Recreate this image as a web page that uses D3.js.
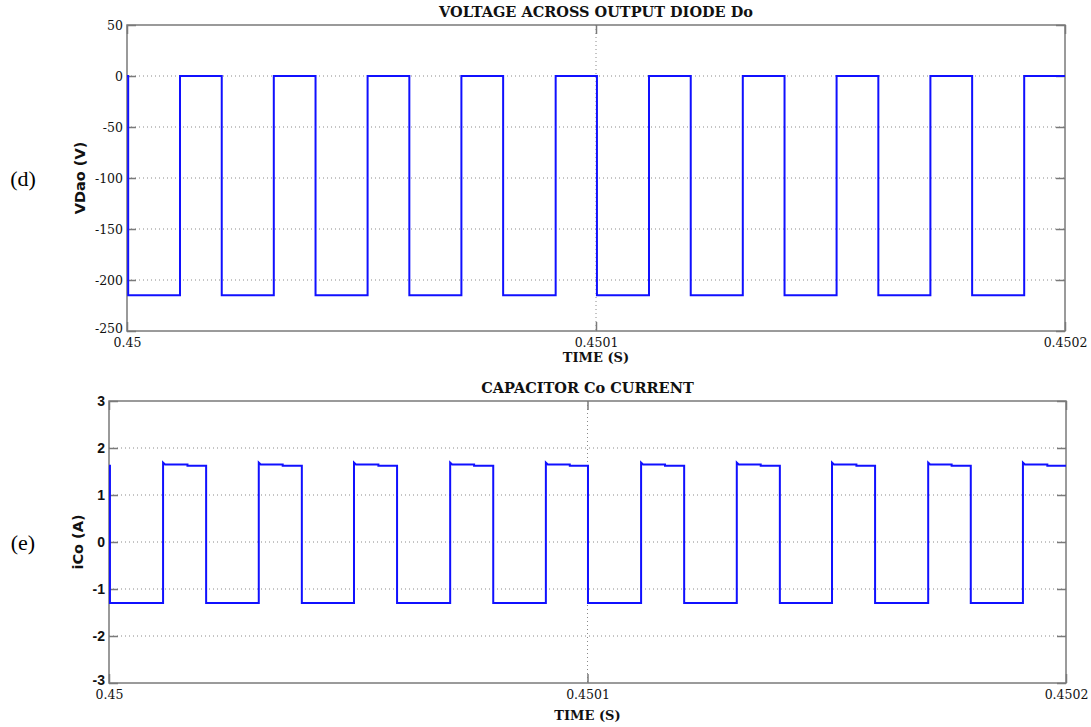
<!DOCTYPE html>
<html>
<head>
<meta charset="utf-8">
<script src="https://cdn.jsdelivr.net/npm/d3@7"></script>
<style>
  body { margin: 0; background: #fff; }
  svg { display: block; }
</style>
</head>
<body>
<svg id="chart" width="1091" height="727"></svg>
<script>
// Shared time axis (seconds); switching edges are given in microseconds after 0.45 s
const timeStart = 0.45;
const timeTicks = [0.45, 0.4501, 0.4502];
const timeTickLabels = ["0.45", "0.4501", "0.4502"];

// (d) Voltage across output diode Do
const vdFallUs = [0.25, 20.2, 40.2, 60.2, 80.2, 100.2, 120.2, 140.2, 160.2, 180.2];
const vdRiseUs = [11.3, 31.3, 51.3, 71.3, 91.4, 111.3, 131.3, 151.3, 171.3, 191.3];
const vdConducting = 0;
const vdBlocking = -215;
const vdTicks = [50, 0, -50, -100, -150, -200, -250];

// (e) Capacitor Co current
const icoFallUs = [0.2, 20.3, 40.3, 60.2, 80.3, 100.1, 120.2, 140.2, 160.1, 180.1];
const icoRiseUs = [11.3, 31.3, 51.2, 71.3, 91.3, 111.2, 131.2, 151.1, 171.2, 191.0];
const icoStepUs = [16.4, 36.3, 56.3, 76.3, 96.3, 116.2, 136.2, 156.2, 176.1, 196.1];
const icoLow = -1.3;
const icoPeak = 1.69;
const icoHigh1 = 1.65;
const icoHigh2 = 1.62;
const icoTicks = [3, 2, 1, 0, -1, -2, -3];

const toSec = us => timeStart + us * 1e-6;

// Step waveform: start level, then events each holding a list of [t_us, value] vertices
function buildSteps(startValue, events, endUs) {
  const pts = [[0, startValue]];
  events.sort((a, b) => a.t - b.t).forEach(e => e.verts.forEach(v => pts.push(v)));
  pts.push([endUs, pts[pts.length - 1][1]]);
  return pts.map(([t, v]) => ({ time: toSec(t), value: v }));
}

const vdEvents = [
  ...vdFallUs.map(t => ({ t, verts: [[t, vdConducting], [t, vdBlocking]] })),
  ...vdRiseUs.map(t => ({ t, verts: [[t, vdBlocking], [t, vdConducting]] }))
];
const icoEvents = [
  ...icoFallUs.map(t => ({ t, verts: [[t, icoHigh2], [t, icoLow]] })),
  ...icoRiseUs.map(t => ({ t, verts: [[t, icoLow], [t, icoPeak], [t + 0.4, icoHigh1]] })),
  ...icoStepUs.map(t => ({ t, verts: [[t, icoHigh1], [t, icoHigh2]] }))
];

const panels = [
  {
    left: 127, top: 25, width: 938, height: 306,
    yDomain: [-250, 50], yTicks: vdTicks,
    data: buildSteps(vdConducting, vdEvents, 200),
    title: "VOLTAGE ACROSS OUTPUT DIODE Do", ylabel: "VDao (V)", tag: "(d)",
    yTickFont: "DejaVu Serif", yTickWeight: "normal", yTickSize: 12.5,
    xlabelDy: 31, ylabelX: 80, tagX: 23
  },
  {
    left: 109, top: 401, width: 957, height: 282,
    yDomain: [-3, 3], yTicks: icoTicks,
    data: buildSteps(icoHigh2, icoEvents, 200),
    title: "CAPACITOR Co CURRENT", ylabel: "iCo (A)", tag: "(e)",
    yTickFont: "Liberation Sans", yTickWeight: "bold", yTickSize: 14,
    xlabelDy: 37, ylabelX: 78, tagX: 23
  }
];

const svg = d3.select("#chart");
svg.append("rect").attr("width", 1091).attr("height", 727).attr("fill", "#fff");

const AXIS = "#7a7a7a";
const GRID = "#8a8a8a";
const TICK_LEN = 9;

panels.forEach(p => {
  const x = d3.scaleLinear().domain([timeTicks[0], timeTicks[2]]).range([0, p.width]);
  const y = d3.scaleLinear().domain(p.yDomain).range([p.height, 0]);
  const g = svg.append("g").attr("transform", `translate(${p.left},${p.top})`);

  // Dotted grid at interior ticks
  const [y0, y1] = p.yDomain;
  g.append("g").selectAll("line.h")
    .data(p.yTicks.filter(v => v !== y0 && v !== y1))
    .join("line")
    .attr("x1", 0).attr("x2", p.width)
    .attr("y1", d => y(d)).attr("y2", d => y(d))
    .attr("stroke", GRID).attr("stroke-width", 1).attr("stroke-dasharray", "1,3");
  g.append("g").selectAll("line.v")
    .data(timeTicks.slice(1, -1))
    .join("line")
    .attr("x1", d => x(d)).attr("x2", d => x(d))
    .attr("y1", 0).attr("y2", p.height)
    .attr("stroke", GRID).attr("stroke-width", 1).attr("stroke-dasharray", "1,3");

  // Inward ticks on all four sides
  const styleAxis = sel => {
    sel.select(".domain").remove();
    sel.selectAll(".tick line").attr("stroke", AXIS).attr("stroke-width", 1.5);
  };
  g.append("g")
    .call(d3.axisLeft(y).tickValues(p.yTicks).tickSizeInner(-TICK_LEN).tickSizeOuter(0).tickPadding(4)
      .tickFormat(d => String(d)))
    .call(styleAxis)
    .call(s => s.selectAll(".tick text")
      .attr("fill", "#111")
      .style("font-family", p.yTickFont).style("font-weight", p.yTickWeight)
      .style("font-size", p.yTickSize + "px"))
    .call(s => s.selectAll(".tick").filter(d => d === y0).select("text").attr("dy", "0.1em"));
  g.append("g").attr("transform", `translate(${p.width},0)`)
    .call(d3.axisRight(y).tickValues(p.yTicks).tickSizeInner(-TICK_LEN).tickSizeOuter(0).tickFormat(""))
    .call(styleAxis);
  g.append("g").attr("transform", `translate(0,${p.height})`)
    .call(d3.axisBottom(x).tickValues(timeTicks).tickSizeInner(-TICK_LEN).tickSizeOuter(0).tickPadding(7)
      .tickFormat((d, i) => timeTickLabels[i]))
    .call(styleAxis)
    .call(s => s.selectAll(".tick text")
      .attr("fill", "#111")
      .style("font-family", "DejaVu Serif").style("font-size", "12.5px"));
  g.append("g")
    .call(d3.axisTop(x).tickValues(timeTicks).tickSizeInner(-TICK_LEN).tickSizeOuter(0).tickFormat(""))
    .call(styleAxis);

  // Frame
  g.append("rect")
    .attr("width", p.width).attr("height", p.height)
    .attr("fill", "none").attr("stroke", AXIS).attr("stroke-width", 1.5);

  // Waveform
  const line = d3.line().x(d => x(d.time)).y(d => y(d.value));
  g.append("path")
    .datum(p.data)
    .attr("d", line)
    .attr("fill", "none")
    .attr("stroke", "#1010ff")
    .attr("stroke-width", 2)
    .attr("stroke-linejoin", "miter");

  // Titles and labels
  g.append("text")
    .attr("x", p.width / 2).attr("y", -8)
    .attr("text-anchor", "middle")
    .style("font-family", "DejaVu Serif").style("font-weight", "bold").style("font-size", "14.5px")
    .attr("fill", "#111")
    .text(p.title);
  g.append("text")
    .attr("x", p.width / 2).attr("y", p.height + p.xlabelDy)
    .attr("text-anchor", "middle")
    .style("font-family", "DejaVu Serif").style("font-weight", "bold").style("font-size", "13px")
    .attr("fill", "#111")
    .text("TIME (S)");
  svg.append("text")
    .attr("transform", `translate(${p.ylabelX},${p.top + p.height / 2}) rotate(-90)`)
    .attr("text-anchor", "middle").attr("dy", "0.35em")
    .style("font-family", "DejaVu Sans").style("font-weight", "bold").style("font-size", "14.5px")
    .attr("fill", "#111")
    .text(p.ylabel);
  svg.append("text")
    .attr("x", p.tagX).attr("y", p.top + p.height / 2).attr("dy", "0.35em")
    .attr("text-anchor", "middle")
    .style("font-family", "Liberation Serif").style("font-size", "22px")
    .attr("fill", "#000")
    .text(p.tag);
});
</script>
</body>
</html>
